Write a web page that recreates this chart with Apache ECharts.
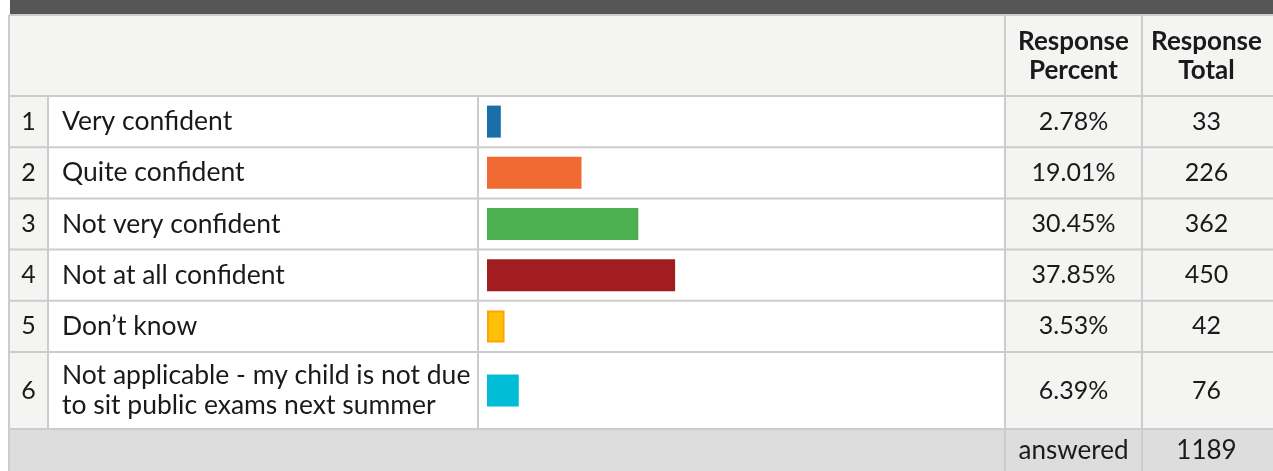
<!DOCTYPE html>
<html>
<head>
<meta charset="utf-8">
<script src="https://cdn.jsdelivr.net/npm/echarts@6/dist/echarts.min.js"></script>
<style>
  html, body { margin: 0; padding: 0; background: #fff; }
  #chart { width: 1273px; height: 471px; }
</style>
</head>
<body>
<div id="chart"></div>
<script>
const rowNumbers = ['1', '2', '3', '4', '5', '6']
const answerChoices = [
  'Very confident',
  'Quite confident',
  'Not very confident',
  'Not at all confident',
  'Don’t know',
  'Not applicable - my child is not due\nto sit public exams next summer',
]
const responsePercent = [2.78, 19.01, 30.45, 37.85, 3.53, 6.39]
const responseTotal = [33, 226, 362, 450, 42, 76]
const answeredCount = 1189
const headerLabels = ['Response\nPercent', 'Response\nTotal']
const footerLabel = 'answered'

const barColors = ['#1b6fa9', '#f06a33', '#4caf50', '#a21d20', '#ffc107', '#00bcd4']
const barBorders = ['', '', '', '', '#ffa300', '']

// table layout, px
const FONT = 'Lato'
const TEXT = '#1a1a1a'
const LINE = '#cccccc'
const SHADE = '#f4f4f2'
const cols = [9, 48, 478, 1005, 1142, 1271]
const barLeft = 487
const barRight = 984
const labelLeft = 62
const headerTop = 15
const bodyTop = 96
const rowH = 51.2
const tallRowH = 77
const footerTop = bodyTop + 5 * rowH + tallRowH
const W = 1273
const H = 471

const mid = (a, b) => (a + b) / 2
const numX = mid(cols[0], cols[1])
const pctX = mid(cols[3], cols[4])
const totX = mid(cols[4], cols[5])

// rows 1-5 share one height, the two-line row 6 is taller
const groups = [
  { start: 0, end: 5, top: bodyTop, height: 5 * rowH },
  { start: 5, end: 6, top: bodyTop + 5 * rowH, height: tallRowH },
]

const labelStyle = { fontFamily: FONT, fontSize: 25, color: TEXT, lineHeight: 30 }

function hiddenCategoryAxis(gridIndex, data, position, label) {
  return {
    type: 'category',
    gridIndex,
    data,
    inverse: true,
    position,
    axisLine: { show: false },
    axisTick: { show: false },
    splitLine: { show: false },
    axisLabel: { interval: 0, ...labelStyle, ...label },
  }
}

const grid = []
const xAxis = []
const yAxis = []
const series = []

groups.forEach((g, gi) => {
  const idx = rowNumbers.slice(g.start, g.end).map((_, i) => g.start + i)
  grid.push({ left: barLeft, width: barRight - barLeft, top: g.top, height: g.height })
  xAxis.push({ type: 'value', gridIndex: gi, min: 0, max: 100, show: false })

  const base = yAxis.length
  yAxis.push(hiddenCategoryAxis(gi, idx.map((i) => answerChoices[i]), 'left', {
    align: 'left', margin: barLeft - labelLeft, fontSize: 26.5,
  }))
  yAxis.push(hiddenCategoryAxis(gi, idx.map((i) => rowNumbers[i]), 'left', {
    align: 'center', margin: barLeft - numX,
  }))
  yAxis.push(hiddenCategoryAxis(gi, idx.map((i) => responsePercent[i].toFixed(2) + '%'), 'right', {
    align: 'center', margin: pctX - barRight,
  }))
  yAxis.push(hiddenCategoryAxis(gi, idx.map((i) => String(responseTotal[i])), 'right', {
    align: 'center', margin: totX - barRight,
  }))

  series.push({
    type: 'bar',
    xAxisIndex: gi,
    yAxisIndex: base,
    barWidth: 32,
    silent: true,
    data: idx.map((i) => ({
      value: responsePercent[i],
      itemStyle: {
        color: barColors[i],
        borderColor: barBorders[i] || barColors[i],
        borderWidth: barBorders[i] ? 2 : 0,
      },
    })),
  })
})

// table frame: shading, rules and the header / footer text
const rowEdges = [bodyTop]
for (let i = 0; i < 5; i++) rowEdges.push(bodyTop + (i + 1) * rowH)
rowEdges.push(footerTop)

const rect = (x, y, w, h, fill) => ({ type: 'rect', silent: true, z: -10, shape: { x, y, width: w, height: h }, style: { fill } })
const hLine = (y, x1, x2) => ({ type: 'line', silent: true, z: -5, shape: { x1, y1: y, x2, y2: y }, style: { stroke: LINE, lineWidth: 2 } })
const vLine = (x, y1, y2) => ({ type: 'line', silent: true, z: -5, shape: { x1: x, y1, x2: x, y2 }, style: { stroke: LINE, lineWidth: 2 } })
const text = (x, y, t, bold) => ({
  type: 'text', silent: true, x, y,
  style: {
    text: t, fill: TEXT, font: `${bold ? 'bold ' : ''}26px ${FONT}`,
    align: 'center', verticalAlign: 'middle', lineHeight: 29,
  },
})

const graphic = [
  rect(cols[0] + 1, 0, W, headerTop - 1, '#565656'),
  rect(cols[0], headerTop, W, bodyTop - headerTop, SHADE),
  rect(cols[0], bodyTop, cols[1] - cols[0], footerTop - bodyTop, SHADE),
  rect(cols[3], bodyTop, W - cols[3], footerTop - bodyTop, SHADE),
  rect(cols[0], footerTop, W, H - footerTop, '#dddddd'),
  hLine(headerTop, cols[0], W),
  ...rowEdges.map((y) => hLine(y, cols[0], W)),
  vLine(cols[0], headerTop, H),
  vLine(cols[1], bodyTop, footerTop),
  vLine(cols[2], bodyTop, footerTop),
  vLine(cols[3], headerTop, H),
  vLine(cols[4], headerTop, H),
  text(pctX, mid(headerTop, bodyTop) + 1, headerLabels[0], true),
  text(totX, mid(headerTop, bodyTop) + 1, headerLabels[1], true),
  text(pctX, mid(footerTop, H) + 1, footerLabel, false),
  text(totX, mid(footerTop, H) + 1, String(answeredCount), false),
]

const chart = echarts.init(document.getElementById('chart'))
chart.setOption({
  animation: false,
  backgroundColor: '#ffffff',
  grid,
  xAxis,
  yAxis,
  series,
  graphic,
})
</script>
</body>
</html>
